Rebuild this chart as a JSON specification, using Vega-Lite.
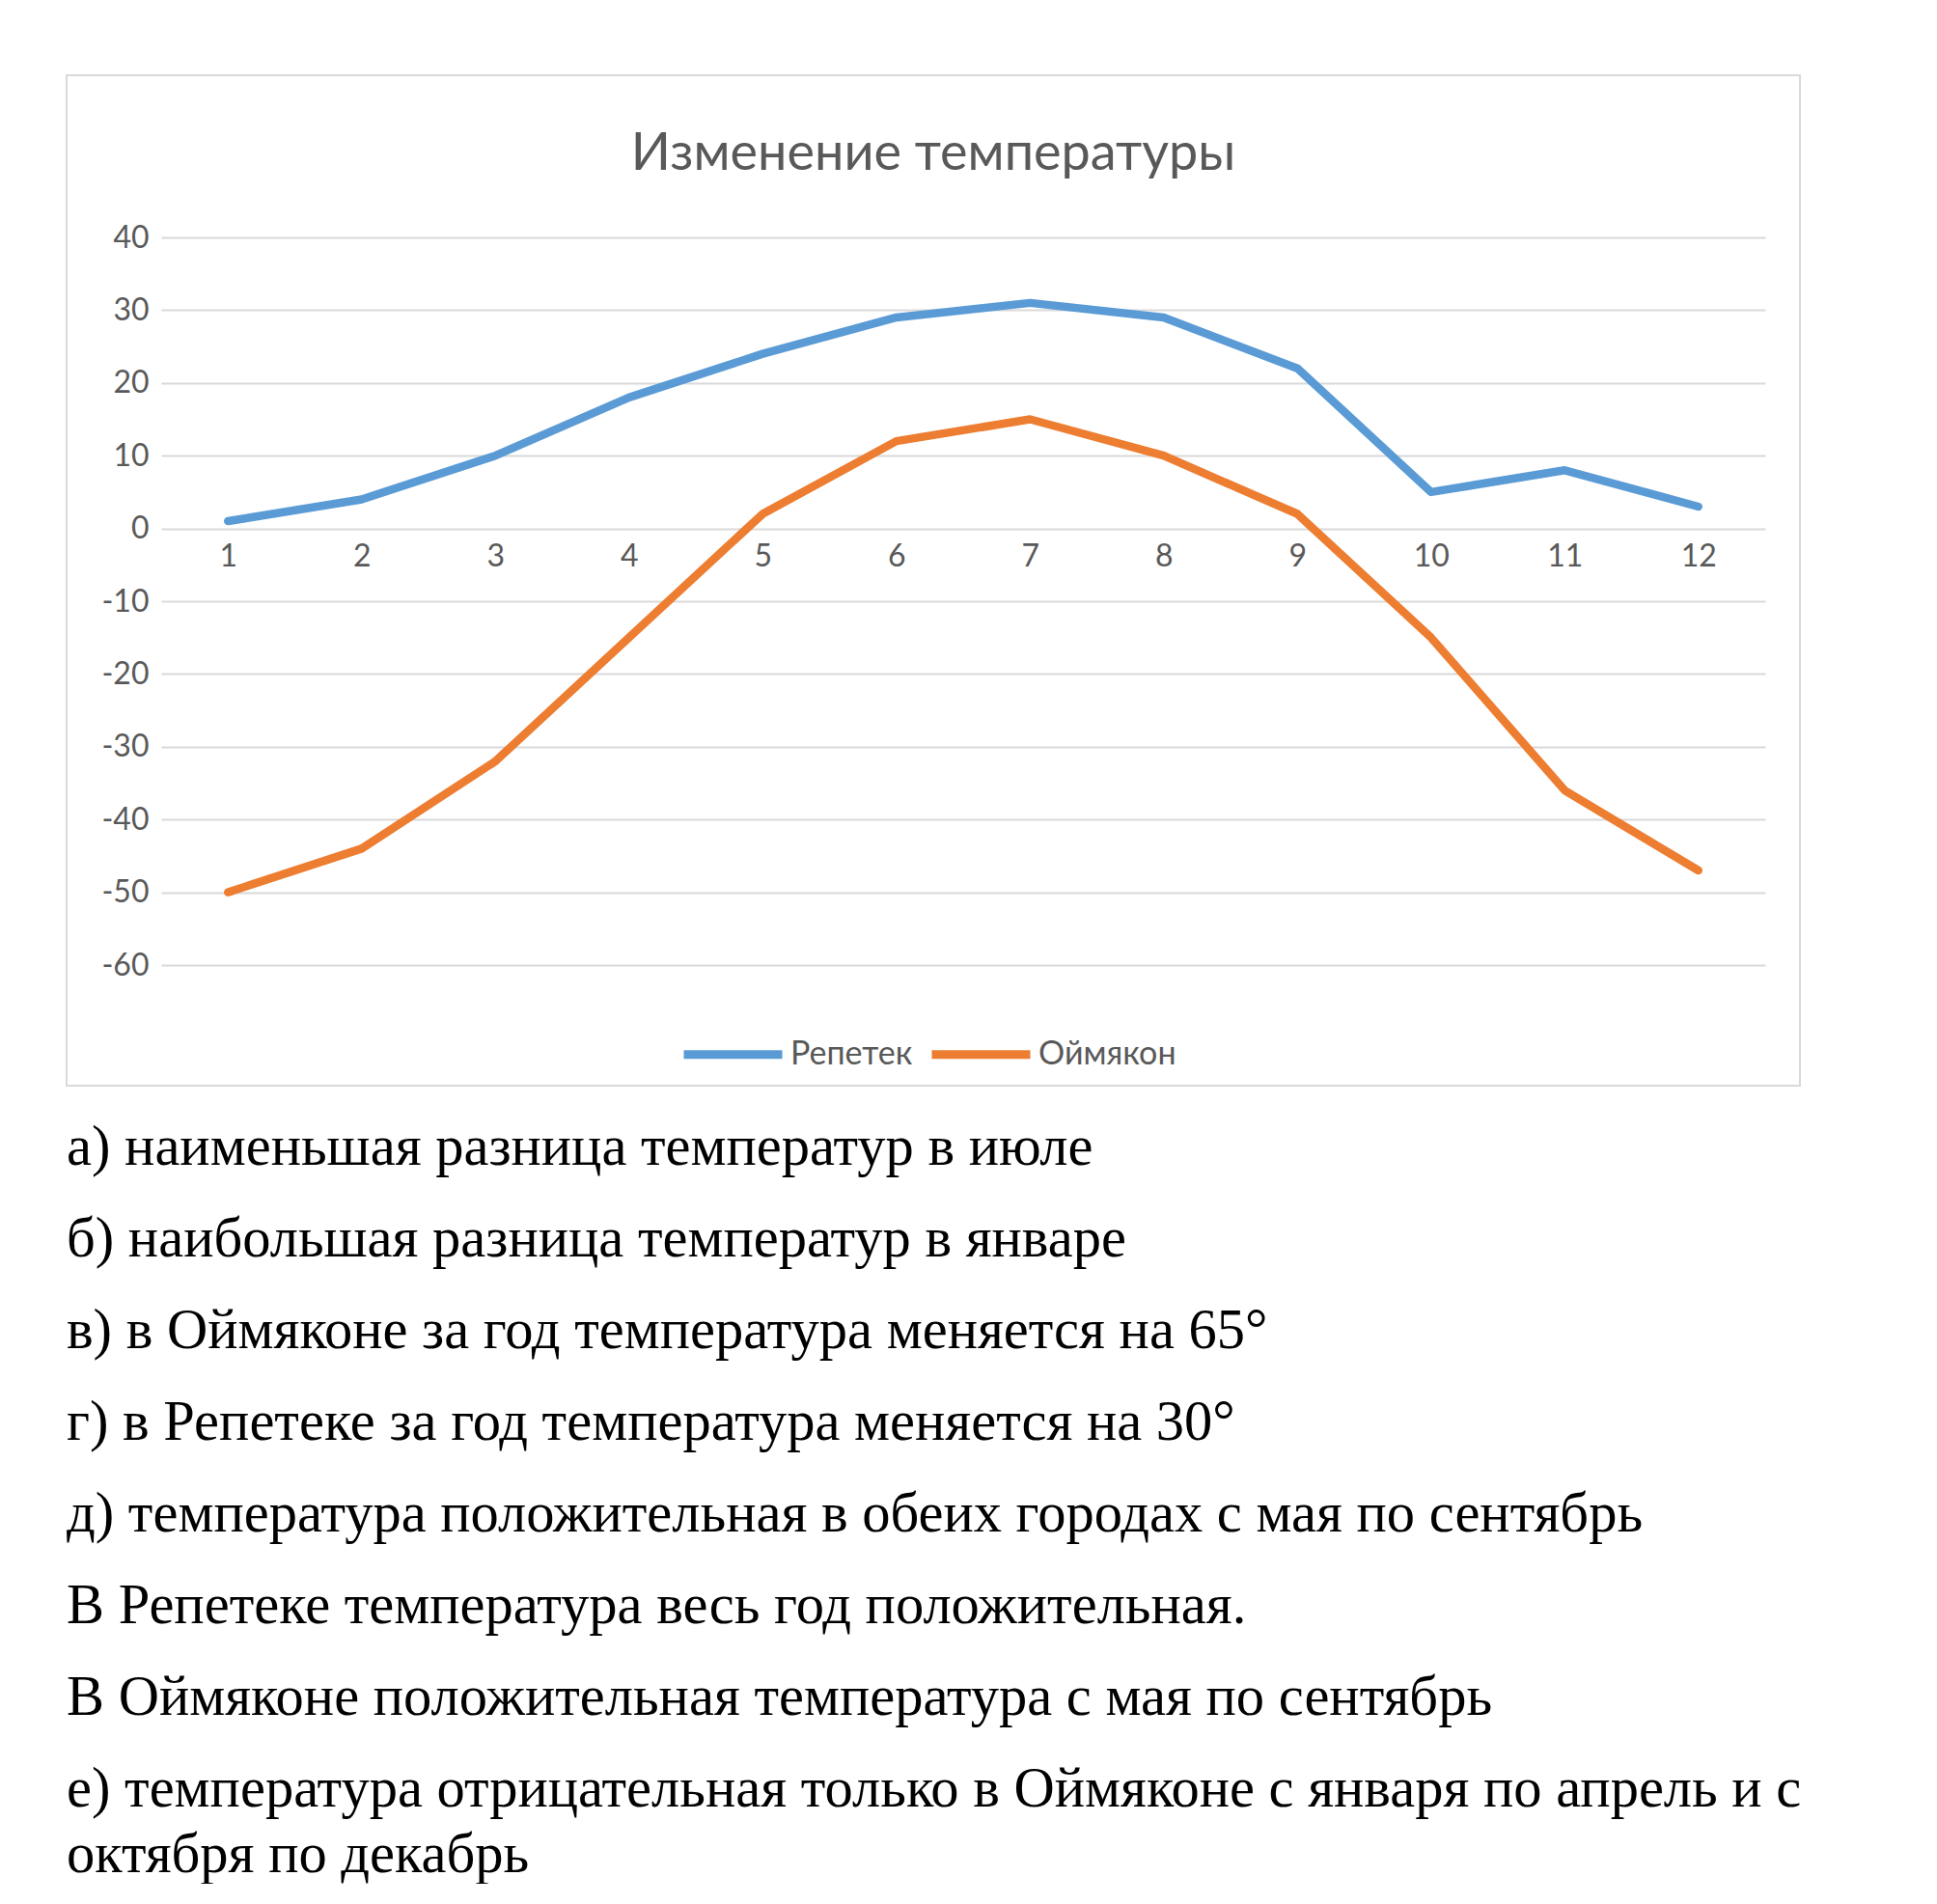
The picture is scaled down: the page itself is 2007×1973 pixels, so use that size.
{
  "$schema": "https://vega.github.io/schema/vega-lite/v6.json",
  "padding": {"left": 68, "top": 77, "right": 0, "bottom": 0},
  "background": "white",
  "bounds": "flush",
  "spacing": 82,
  "config": {"view": {"stroke": null}},
  "vconcat": [
    {
      "width": 1796,
      "height": 1047,
      "view": {"stroke": "#D9D9D9", "strokeWidth": 2},
      "title": {
        "text": "Изменение температуры",
        "font": "Lato",
        "fontSize": 54,
        "fontWeight": "normal",
        "color": "#595959",
        "anchor": "middle",
        "baseline": "alphabetic",
        "offset": -152
      },
      "data": {
        "values": [
          {"month": 1, "temp": 1, "city": "Репетек"},
          {"month": 2, "temp": 4, "city": "Репетек"},
          {"month": 3, "temp": 10, "city": "Репетек"},
          {"month": 4, "temp": 18, "city": "Репетек"},
          {"month": 5, "temp": 24, "city": "Репетек"},
          {"month": 6, "temp": 29, "city": "Репетек"},
          {"month": 7, "temp": 31, "city": "Репетек"},
          {"month": 8, "temp": 29, "city": "Репетек"},
          {"month": 9, "temp": 22, "city": "Репетек"},
          {"month": 10, "temp": 5, "city": "Репетек"},
          {"month": 11, "temp": 8, "city": "Репетек"},
          {"month": 12, "temp": 3, "city": "Репетек"},
          {"month": 1, "temp": -50, "city": "Оймякон"},
          {"month": 2, "temp": -44, "city": "Оймякон"},
          {"month": 3, "temp": -32, "city": "Оймякон"},
          {"month": 4, "temp": -15, "city": "Оймякон"},
          {"month": 5, "temp": 2, "city": "Оймякон"},
          {"month": 6, "temp": 12, "city": "Оймякон"},
          {"month": 7, "temp": 15, "city": "Оймякон"},
          {"month": 8, "temp": 10, "city": "Оймякон"},
          {"month": 9, "temp": 2, "city": "Оймякон"},
          {"month": 10, "temp": -15, "city": "Оймякон"},
          {"month": 11, "temp": -36, "city": "Оймякон"},
          {"month": 12, "temp": -47, "city": "Оймякон"}
        ]
      },
      "mark": {"type": "line", "strokeWidth": 8.5, "strokeCap": "round", "strokeJoin": "round"},
      "encoding": {
        "x": {
          "field": "month",
          "type": "quantitative",
          "scale": {"domain": [0.5, 12.5], "range": [98, 1760], "nice": false, "zero": false},
          "axis": {
            "title": null,
            "values": [1, 2, 3, 4, 5, 6, 7, 8, 9, 10, 11, 12],
            "format": "d",
            "grid": false,
            "domain": false,
            "ticks": false,
            "tickSize": 0,
            "labelPadding": 13,
            "offset": -577,
            "labelFont": "Lato",
            "labelFontSize": 32,
            "labelColor": "#595959"
          }
        },
        "y": {
          "field": "temp",
          "type": "quantitative",
          "scale": {"domain": [-60, 40], "range": [922, 168], "nice": false, "zero": false},
          "axis": {
            "title": null,
            "values": [-60, -50, -40, -30, -20, -10, 0, 10, 20, 30, 40],
            "labelExpr": "'' + datum.value",
            "grid": true,
            "gridColor": "#D9D9D9",
            "gridWidth": 2,
            "gridOpacity": 1,
            "domain": false,
            "ticks": false,
            "tickSize": 0,
            "labelPadding": 0,
            "offset": -85,
            "labelFont": "Lato",
            "labelFontSize": 32,
            "labelColor": "#595959"
          }
        },
        "color": {
          "field": "city",
          "type": "nominal",
          "scale": {"domain": ["Репетек", "Оймякон"], "range": ["#5B9BD5", "#ED7D31"]},
          "legend": {
            "title": null,
            "orient": "none",
            "direction": "horizontal",
            "legendX": 635,
            "legendY": 959,
            "symbolType": "stroke",
            "symbolSize": 10404,
            "symbolStrokeWidth": 9,
            "labelFont": "Lato",
            "labelFontSize": 34,
            "labelColor": "#595959",
            "labelOffset": 4,
            "columnPadding": 1,
            "padding": 0
          }
        }
      }
    },
    {
      "width": 1800,
      "height": 665,
      "data": {
        "values": [
          {"line": 1, "text": "а) наименьшая разница температур в июле"},
          {"line": 2, "text": "б) наибольшая разница температур в январе"},
          {"line": 3, "text": "в) в Оймяконе за год температура меняется на 65°"},
          {"line": 4, "text": "г) в Репетеке за год температура меняется на 30°"},
          {"line": 5, "text": "д) температура положительная в обеих городах с мая по сентябрь"},
          {"line": 6, "text": "В Репетеке температура весь год положительная."},
          {"line": 7, "text": "В Оймяконе положительная температура с мая по сентябрь"},
          {"line": 8, "text": "е) температура отрицательная только в Оймяконе с января по апрель и с\nоктября по декабрь"}
        ]
      },
      "mark": {
        "type": "text",
        "align": "left",
        "baseline": "alphabetic",
        "font": "Liberation Serif",
        "fontSize": 58.5,
        "color": "#000000",
        "lineBreak": "\n",
        "lineHeight": 68
      },
      "encoding": {
        "x": {"datum": 0, "type": "quantitative", "scale": {"domain": [0, 1]}, "axis": null},
        "y": {"field": "line", "type": "quantitative", "scale": {"domain": [1, 8], "reverse": true, "nice": false, "zero": false}, "axis": null},
        "text": {"field": "text"}
      }
    }
  ]
}
